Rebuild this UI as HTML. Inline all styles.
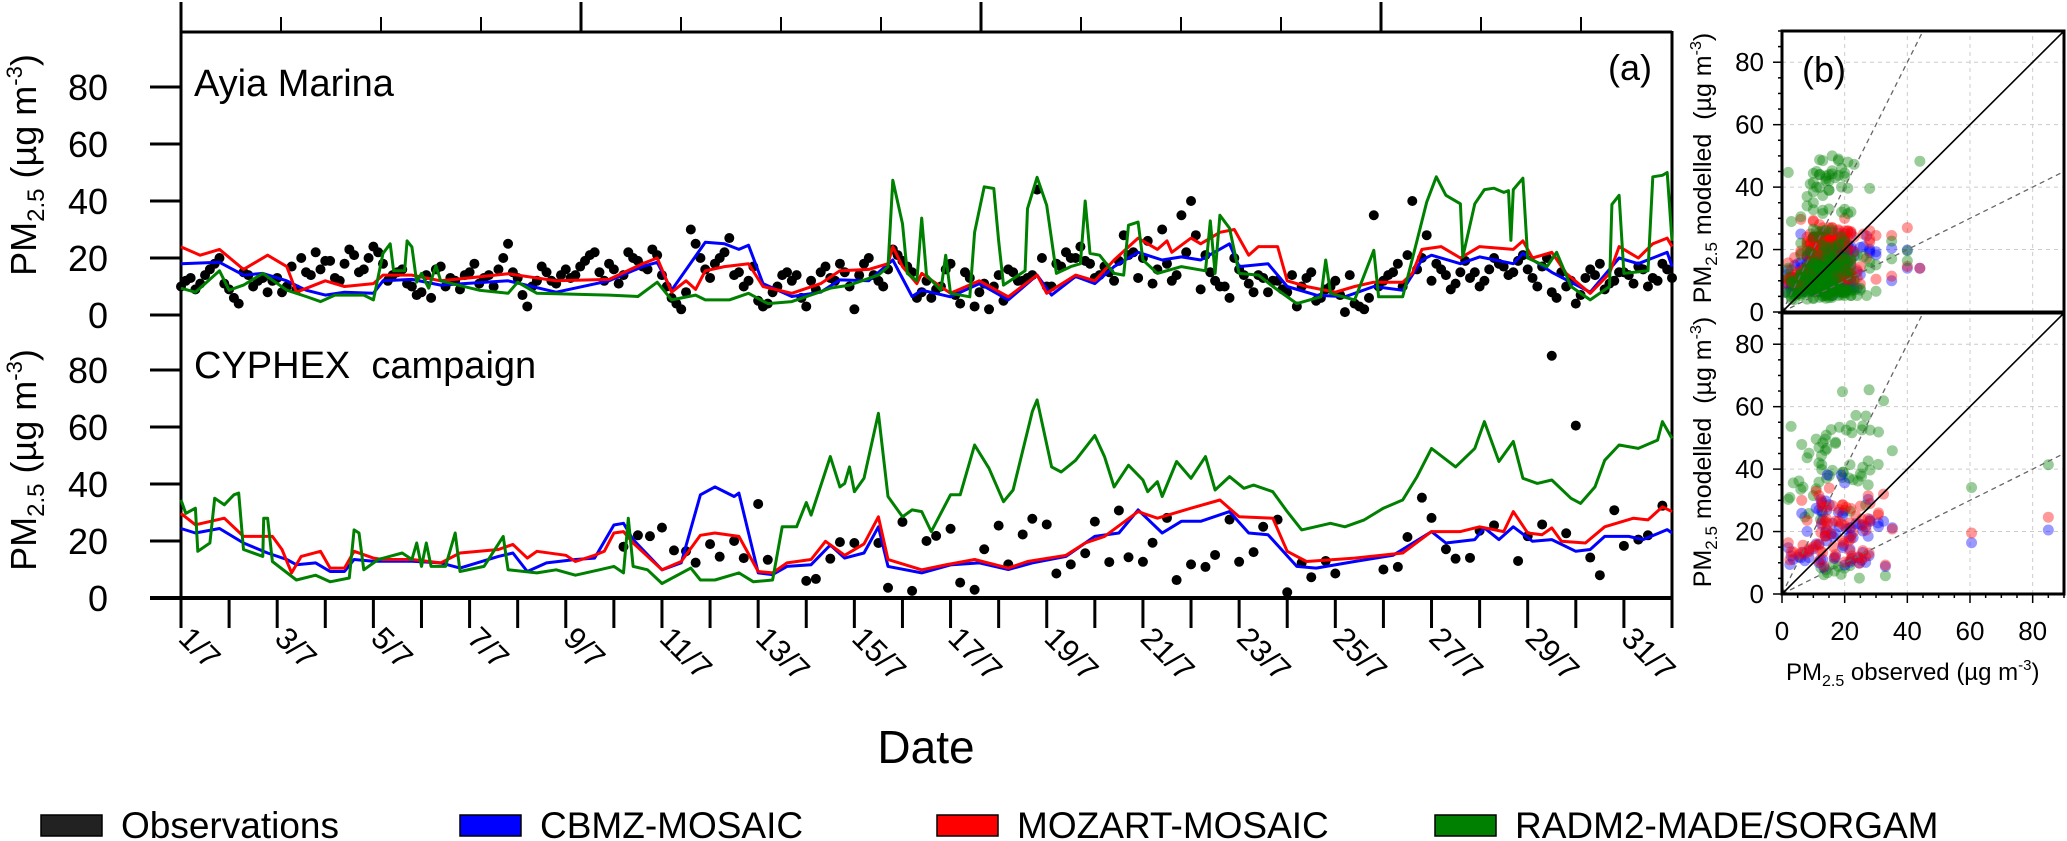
<!DOCTYPE html>
<html><head><meta charset="utf-8">
<style>
html,body{margin:0;padding:0;background:#fff;}
svg{display:block;font-family:"Liberation Sans",Arial,sans-serif;}
</style></head>
<body>
<svg id="chart" width="2067" height="841" viewBox="0 0 2067 841" xmlns="http://www.w3.org/2000/svg">
  <g id="gA"></g>
  <g id="gB"></g>
  <g id="gText">
    <text x="194" y="96" font-size="38">Ayia Marina</text>
    <text x="194" y="378" font-size="38" xml:space="preserve">CYPHEX  campaign</text>
    <text x="1608" y="80" font-size="36">(a)</text>
    <text x="1802" y="82" font-size="36">(b)</text>
    <text transform="translate(36,165) rotate(-90)" text-anchor="middle" font-size="36">PM<tspan font-size="24" dy="8">2.5</tspan><tspan dy="-8"> (µg m</tspan><tspan font-size="22" dy="-14">-3</tspan><tspan dy="14">)</tspan></text>
    <text transform="translate(36,460) rotate(-90)" text-anchor="middle" font-size="36">PM<tspan font-size="24" dy="8">2.5</tspan><tspan dy="-8"> (µg m</tspan><tspan font-size="22" dy="-14">-3</tspan><tspan dy="14">)</tspan></text>
    <text transform="translate(1711,168) rotate(-90)" text-anchor="middle" font-size="25">PM<tspan font-size="17" dy="6">2.5</tspan><tspan dy="-6" xml:space="preserve"> modelled  (µg m</tspan><tspan font-size="16" dy="-10">-3</tspan><tspan dy="10">)</tspan></text>
    <text transform="translate(1711,452) rotate(-90)" text-anchor="middle" font-size="25">PM<tspan font-size="17" dy="6">2.5</tspan><tspan dy="-6" xml:space="preserve"> modelled  (µg m</tspan><tspan font-size="16" dy="-10">-3</tspan><tspan dy="10">)</tspan></text>
    <text x="1786" y="680" font-size="24">PM<tspan font-size="16" dy="6">2.5</tspan><tspan dy="-6"> observed (µg m</tspan><tspan font-size="15" dy="-10">-3</tspan><tspan dy="10">)</tspan></text>
    <text x="926" y="763" font-size="46" text-anchor="middle">Date</text>
  </g>
  <g id="gLegend"></g>
</svg>
<script>
// ---------- Ayia Marina (upper) ----------
const amObsV1 = [10,13,11,16,20,9,4,14,12,8,13,10,9,15,22,19,13,18,21,16,24,18,14,16,10,8,6,17,13,9,15,11,14,16,25,13,3,12,15,11,16,14,19,22,12,16,14,20,17,23,14,6,2,30,20,13,20,27,15,12,5,4,10,15,14,3,9,17,12,15,2,18,14,10,23,19,15,8,
6,10,18,4,13,8,2,14,16,12,13,44,10,18,22,20,19,13,17,12,28,22,20,11,30,12,35,40,9,15,10,6,16,11,14,8,12,8,3,13,5,9,12,1,4,2,35,12,15,10,40,20,12,16,9,15,13,10,16,18,14,19,16,10,20,6,10,4,13,14,9,12,15,11,16,13,18,13];
const amObsV2 = [12,9,14,18,11,6,15,10,13,12,8,17,20,14,16,19,12,23,15,20,
22,12,15,11,7,14,16,10,12,14,18,13,10,20,15,7,10,17,12,14,
13,17,21,15,18,11,22,19,16,21,10,4,8,25,16,18,22,14,10,17,
3,8,14,12,6,12,15,13,18,10,14,20,12,16,21,17,6,12,9,16,
7,15,3,11,10,5,15,12,14,20,10,17,20,24,18,14,15,19,21,13,
26,16,18,14,22,28,21,12,10,20,14,8,13,12,9,14,10,15,6,10,
7,14,3,6,10,14,18,21,16,28,18,14,11,19,15,12,20,17,15,21,
13,17,8,15,12,7,16,18,11,15,14,17,10,12,16];
const amObsT1 = amObsV1.map((v,i)=>i<78 ? i*0.2 : 15.6+(i-78)*0.2);
const amObsT2 = amObsV2.map((v,i)=>0.1+i*0.2);
const amObsT = amObsT1.concat(amObsT2);
const amObsV = amObsV1.concat(amObsV2);
const amRedT = [0,0.4,0.8,1.3,1.8,2.2,2.4,3,3.4,4,4.2,4.8,5.4,6,6.8,7.8,8.9,9.6,9.9,10.2,10.5,10.7,10.9,11.3,11.8,12.1,12.7,13.3,13.7,14.3,14.7,14.8,15,15.3,15.4,16,16.6,17.2,17.8,18,18.6,19,19.4,19.9,20.3,20.5,20.6,21,21.2,21.6,21.9,22.2,22.4,22.8,23,23.4,24,24.4,24.8,25.4,25.6,25.8,26.2,26.6,27,27.7,27.9,28.1,28.5,28.8,29.3,29.7,29.9,30.3,30.6,30.9,31];
const amRedV = [23.9,21,23,16,21,17,8,12,10,11,14,14,12,13,14.5,12,12.5,18,20,8,12,9,15.5,17,18,10,7.6,11,15.5,16,18,24,17,11,14.6,7.6,12,6.4,14,7.6,14,12,19.3,27,23,26,22,27,25,29,30,21,24,24,12,10,8,10,11.5,11.5,14.6,23,24,20,24,23,26,20,22,14.6,7.6,14.6,24,20,25,27,24];
const amBlueT = [0,0.8,1.3,1.7,2.2,2.6,3,3.4,4,4.2,4.8,5.4,6.8,7.8,8.9,9.6,9.9,10.2,10.9,11.3,11.6,11.8,12.1,12.7,13.3,13.7,14.3,14.8,15.2,15.4,16,16.6,17.2,17.8,18.1,18.6,19,19.4,19.9,20.4,20.8,21.2,21.8,22,22.6,23,23.6,24.2,24.8,25.4,25.8,26,26.6,27,27.7,27.9,28.5,29.3,29.9,30.3,30.9,31];
const amBlueV = [18,18.5,14,14.6,12,8.7,7,8,7.6,12,12.5,10.5,12,8,12,17,18.5,8.7,25.5,25,23,24.5,11,6.5,8,12.3,12,19.3,6.5,8.7,6.4,11,5.3,14,7,13.5,11,17,22,19.3,20.4,19.3,25,17,18,10,7,6.4,10,8.7,19.3,21,18,20.4,18,21.6,15,8,20,18,22,17];
const amGreenT = [0,0.3,0.8,1,1.3,1.7,2.2,2.6,2.9,3.2,3.8,4,4.2,4.35,4.42,4.65,4.7,4.8,4.9,5,5.15,5.3,5.4,6.2,6.8,7,7.4,8.9,9.5,9.9,10.2,10.7,10.9,11.4,11.8,12.2,12.7,13.2,13.5,13.9,14.5,14.7,14.8,15,15.1,15.3,15.4,15.5,15.8,15.9,16,16.4,16.5,16.7,16.9,17,17.1,17.55,17.6,17.8,18,18.2,18.5,18.7,18.8,18.9,19.1,19.4,19.6,19.7,19.9,20,20.3,20.8,21.3,21.4,21.5,21.6,21.8,22,22.4,22.7,23.2,23.7,23.8,23.9,24.4,24.8,24.9,25.4,25.7,25.9,26.1,26.3,26.6,26.65,26.9,27.1,27.3,27.5,27.6,27.65,27.7,27.9,28,28.4,28.6,28.9,29.3,29.7,29.75,29.9,30,30.5,30.6,30.8,30.9,31];
const amGreenV = [9.4,8,15.5,8.7,10.5,14.6,8.7,6.5,4.7,7,7,5.3,21.6,25,15.5,15.5,26,23.9,11.5,14.6,9.4,17.3,12,8.7,7.6,11.5,7.6,7,6.5,11.5,5.3,7,5.3,5.3,7.6,4,4.7,7.6,9.4,10.5,14,16.9,47.3,32,14.6,12,34,14,8.7,21,7.6,6.4,29,45,44.4,26.2,10.5,15.5,37.3,48.3,38.5,14.6,17,18,40,21.6,21,14.6,14,31.5,32.6,19.3,14.6,17,15.5,33,14.6,35,30.5,14.6,14,10,4,6.4,19.3,7.6,5.3,22.7,6.4,6.4,26.2,39.6,48.5,42,39,20.4,39,44,44.5,43,43.6,26.2,44,48,20,16.9,22,10,5.3,10,38.8,42,14.6,15.5,48.5,49,50,26];
// ---------- CYPHEX (lower) ----------
const cyObsT = [9.2,9.5,9.75,10,10.25,10.5,10.7,11,11.2,11.5,11.7,12,12.2,13,13.2,13.5,13.7,14,14.5,14.7,15,15.2,15.5,15.7,16,16.2,16.5,16.7,17,17.2,17.5,17.7,18,18.2,18.5,18.8,19,19.3,19.5,19.7,20,20.2,20.5,20.7,21,21.3,21.5,21.8,22,22.3,22.5,22.8,23,23.3,23.5,23.8,24,25,25.3,25.5,25.8,26,26.3,26.5,26.8,27,27.3,27.8,28,28.3,28.5,28.8,29,29.3,29.5,29.8,30,30.3,30.5,30.8];
const cyObsV = [18,22,21.7,24.7,16.7,16.4,12.4,18.9,14.5,20,14,33,13.4,6,6.7,13.8,19.6,19.3,19.3,3.6,26.7,2.5,20,21.8,24.3,5.4,2.9,17.1,25.4,11.8,22.3,27.8,25.8,8.6,11.8,15.7,26.8,12.6,30.7,14.3,12.7,19.4,28.1,6.3,11.8,10.9,15.1,27.5,12.7,16.1,25,27.5,2,12.3,7.3,13,8.6,10,10.9,21.4,35.2,28.1,17.1,13.8,14.1,23.6,25.5,13,21.7,25.8,85,22.7,60.5,14.2,8,30.8,18.3,20.5,22,32.4];
const cyRedT = [0,0.3,0.9,1.3,1.9,2.1,2.3,2.5,2.9,3.1,3.4,3.6,4,4.2,4.8,5.4,5.8,6.6,6.9,7.2,7.4,8,8.2,8.6,8.8,9,9.2,9.4,10,10.4,10.8,11.1,11.6,12,12.3,12.6,13.1,13.4,13.8,14.2,14.5,14.7,15.4,15.9,16.5,17.2,17.6,18.4,18.8,19.2,19.9,20.3,21,21.6,22,22.7,23,23.4,24.4,25.4,26,26.6,27,27.5,27.7,28,28.3,28.5,28.7,29.2,29.6,30.2,30.5,30.8,31];
const cyRedV = [29.7,25.7,28,21.6,21.6,17,8.8,14.6,16.4,10.5,10.5,16.4,14,13.5,13.5,12.3,15.8,17,18.8,14,16.4,15,12.8,15,16.4,22.8,23.3,19.3,9.9,12.8,22,22.8,21.6,9.3,8.8,12.3,13.5,19.9,15,19,28.5,13.5,9.9,11.6,13.5,10.5,12.8,15,19.3,21.6,30.3,28,31.5,34.4,28.5,28,16.4,12.8,14,15.8,23.3,23.3,25,23.3,30.3,22.8,22.2,24.6,19.9,19.3,25,28,27.4,32,30.3];
const cyBlueT = [0,0.3,0.8,1.3,1.8,2.2,2.4,2.8,3.1,3.4,3.6,4,4.8,5.4,5.8,6.6,6.9,7.2,7.6,8.2,8.6,9,9.2,9.4,10,10.4,10.8,11.1,11.5,11.6,12,12.3,12.6,13.1,13.5,13.8,14.2,14.5,14.7,15.4,16,16.6,17.2,17.7,18.4,19,19.5,19.9,20.4,20.8,21.2,21.8,22.2,22.6,23.2,23.6,24.4,25.2,26,26.3,26.9,27.1,27.4,27.7,28.1,28.5,29,29.3,29.6,30.1,30.4,30.9,31];
const cyBlueV = [24.4,22.8,24.4,19.3,15.8,13.5,11.7,12.3,9.3,9.3,13.5,12.9,12.9,12.3,10.5,14.6,15.8,9.3,12.3,13.5,14,25.6,26.2,20.5,9.9,12.3,36.2,39,35.6,36.8,8.8,8.2,11.1,11.7,18.6,14,15.8,25,11.1,8.8,11.6,12.3,10,12.3,14.6,21.6,22.8,30.9,22.8,26.9,26.9,30.3,22.8,22.2,11.1,10.5,12.8,15,23.3,19.3,20.5,24.6,20.5,25,19.9,20.5,16.4,17,21.6,21.6,20.5,24,22.8];
const cyGreenT = [0,0.1,0.3,0.35,0.6,0.7,0.9,1.1,1.2,1.3,1.7,1.72,1.8,1.9,2.4,2.8,3.1,3.5,3.6,3.7,3.8,4.1,4.6,4.8,4.9,5,5.1,5.2,5.5,5.7,5.8,6.3,6.7,6.8,7.4,7.8,8.2,8.7,9,9.2,9.3,9.4,9.7,10,10.6,10.8,11.1,11.6,11.9,12.3,12.5,12.8,13,13.1,13.5,13.7,13.8,13.9,14,14.2,14.5,14.7,15,15.2,15.4,15.6,16,16.2,16.5,16.8,17.1,17.3,17.7,17.8,18.1,18.3,18.6,19,19.2,19.4,19.7,20,20.1,20.3,20.4,20.7,21,21.3,21.5,21.8,22.1,22.3,22.7,23,23.3,23.9,24.2,24.6,25,25.4,25.7,26,26.5,26.9,27.1,27.4,27.7,27.9,28.2,28.5,28.9,29.1,29.4,29.6,29.9,30.3,30.7,30.8,31];
const cyGreenV = [34.4,29.7,31.5,16.4,19.3,35,32.7,36.2,36.8,17,14.6,28,28,12.8,6.3,8,5.7,7,23.9,22.8,9.9,13.5,15.8,13.5,19.3,11.1,19.3,11.1,11.1,22.8,9.3,11.1,21.6,9.9,8.8,9.9,8,9.9,11.1,8.8,28,11.1,9.9,5.1,10.5,6.3,6.3,8.8,5.7,6.3,25,25,33.5,29.1,49.6,39,40.2,46,37.3,42,64.8,35.6,28.5,30.9,30.3,23.3,36.2,36.2,53.7,45.5,33.8,37.9,65.4,69.5,46,44.2,48.3,57,49.6,39,46.6,41.4,37.3,40.8,35.6,47.9,42,49.6,37.9,42.6,38.5,39.6,37.3,30.3,23.9,26.2,25,27.4,31.5,34.4,42.6,52.5,46,52.5,61.9,47.9,54.9,42,40.2,41.4,35,33.2,39,48.3,53.7,52.5,55.4,61.9,56];
// ---------- axis tick labels ----------
const yTickVals = [0,20,40,60,80];
const dateLabels = ["1/7","3/7","5/7","7/7","9/7","11/7","13/7","15/7","17/7","19/7","21/7","23/7","25/7","27/7","29/7","31/7"];
const scatterTicks = [0,20,40,60,80];
const legendNames = ["Observations","CBMZ-MOSAIC","MOZART-MOSAIC","RADM2-MADE/SORGAM"];

const NS="http://www.w3.org/2000/svg";
function mk(tag, attrs, parent){const e=document.createElementNS(NS,tag);for(const k in attrs)e.setAttribute(k,attrs[k]);parent.appendChild(e);return e;}
const gA=document.getElementById('gA'), gB=document.getElementById('gB'), gL=document.getElementById('gLegend');

const X0=181, X1=1672, DAYS=31;
const xDay = d => X0 + d*(X1-X0)/DAYS;
const yUp = v => 315 - 2.85*v;
const yLo = v => 598 - 2.85*v;

let e;
e=mk('line',{x1:X0,y1:32,x2:X1,y2:32,stroke:'#000','stroke-width':3},gA);


e=mk('line',{x1:X0,y1:31,x2:X0,y2:599,stroke:'#000','stroke-width':3},gA);


e=mk('line',{x1:X1,y1:31,x2:X1,y2:599,stroke:'#000','stroke-width':3},gA);


e=mk('line',{x1:150,y1:598,x2:X1,y2:598,stroke:'#000','stroke-width':4},gA);


for(let i=0;i<=14;i++){const x=X0+i*100; if(x>X1)break;
  e=mk('line',{x1:x,y1:(i%4===0)?2:17,x2:x,y2:32,stroke:'#000','stroke-width':(i%4===0)?3:2},gA);
  
  
}
[[yUp,'upper'],[yLo,'lower']].forEach(([fy,nm])=>{
  yTickVals.forEach(v=>{
    e=mk('line',{x1:150,y1:fy(v),x2:X0,y2:fy(v),stroke:'#000','stroke-width':3},gA);
    
    
    e=mk('text',{x:108,y:fy(v)+13,'font-size':36,'text-anchor':'end'},gA);
    e.textContent=v;
    
    
  });
});
for(let d=0; d<=DAYS; d++){
  e=mk('line',{x1:xDay(d),y1:598,x2:xDay(d),y2:628,stroke:'#000','stroke-width':3},gA);
  
  
}
dateLabels.forEach((lab,i)=>{
  const x=xDay(i*2);
  e=mk('text',{x:0,y:0,'font-size':31,transform:`translate(${x-4},${640}) rotate(45)`},gA);
  e.textContent=lab;
  
  
});
function line(T,V,fy,color,name){
  const n=Math.min(T.length,V.length);
  const pts=[];for(let i=0;i<n;i++)pts.push(xDay(T[i]).toFixed(1)+','+fy(V[i]).toFixed(1));
  const p=mk('polyline',{points:pts.join(' '),fill:'none',stroke:color,'stroke-width':3,'stroke-linejoin':'round'},gA);
  
  
}
function dots(T,V,fy,name){
  const n=Math.min(T.length,V.length);
  for(let i=0;i<n;i++){
    const c=mk('circle',{cx:xDay(T[i]),cy:fy(V[i]),r:5,fill:'#000'},gA);
    
    
  }
}
dots(amObsT,amObsV,yUp,'obs-point-ayia-marina');
line(amBlueT,amBlueV,yUp,'#0000ff','cbmz-line-ayia-marina');
line(amRedT,amRedV,yUp,'#ff0000','mozart-line-ayia-marina');
line(amGreenT,amGreenV,yUp,'#008000','radm2-line-ayia-marina');
dots(cyObsT,cyObsV,yLo,'obs-point-cyphex');
line(cyBlueT,cyBlueV,yLo,'#0000ff','cbmz-line-cyphex');
line(cyRedT,cyRedV,yLo,'#ff0000','mozart-line-cyphex');
line(cyGreenT,cyGreenV,yLo,'#008000','radm2-line-cyphex');

// ---------- scatter (b) ----------
const SX0=1782, SX1=2064;
const sx = v => SX0 + v*(SX1-SX0)/90;
const syU = v => 312 - v*281/90;
const syL = v => 594 - v*281/90;
function interp(T,V,t){const n=Math.min(T.length,V.length);
  if(t<=T[0])return V[0]; for(let i=1;i<n;i++){if(T[i]>=t){const f=(t-T[i-1])/((T[i]-T[i-1])||1);return V[i-1]+f*(V[i]-V[i-1]);}} return V[n-1];}
const clipU=mk('clipPath',{id:'clipU'},gB); mk('rect',{x:SX0,y:31,width:SX1-SX0,height:281},clipU);
const clipL=mk('clipPath',{id:'clipL'},gB); mk('rect',{x:SX0,y:313,width:SX1-SX0,height:281},clipL);
[[syU,'clipU','upper',amObsT,amObsV,[[amBlueT,amBlueV,'rgba(0,0,255,0.4)','cbmz'],[amRedT,amRedV,'rgba(255,0,0,0.4)','mozart'],[amGreenT,amGreenV,'rgba(0,128,0,0.4)','radm2']]],
 [syL,'clipL','lower',cyObsT,cyObsV,[[cyGreenT,cyGreenV,'rgba(0,128,0,0.4)','radm2'],[cyBlueT,cyBlueV,'rgba(0,0,255,0.4)','cbmz'],[cyRedT,cyRedV,'rgba(255,0,0,0.4)','mozart']]]
].forEach(([fy,clip,nm,OT,OV,models])=>{
  const g=mk('g',{'clip-path':`url(#${clip})`},gB);
  
  
  scatterTicks.slice(1).forEach(v=>{
    e=mk('line',{x1:sx(v),y1:fy(0),x2:sx(v),y2:fy(90),stroke:'#ccc','stroke-width':1,'stroke-dasharray':'4 4'},g);
    
    
    e=mk('line',{x1:SX0,y1:fy(v),x2:SX1,y2:fy(v),stroke:'#ccc','stroke-width':1,'stroke-dasharray':'4 4'},g);
    
    
  });
  const n=Math.min(OT.length,OV.length);
  models.forEach(([T,V,col,mn])=>{
    for(let i=0;i<n;i++){
      const c=mk('circle',{cx:sx(OV[i]),cy:fy(interp(T,V,OT[i])),r:5.5,fill:col},g);
      
      
    }
  });
  e=mk('line',{x1:sx(0),y1:fy(0),x2:sx(45),y2:fy(90),stroke:'#666','stroke-width':1.3,'stroke-dasharray':'5 4'},g);
  
  
  e=mk('line',{x1:sx(0),y1:fy(0),x2:sx(90),y2:fy(45),stroke:'#666','stroke-width':1.3,'stroke-dasharray':'5 4'},g);
  
  
  e=mk('line',{x1:sx(0),y1:fy(0),x2:sx(90),y2:fy(90),stroke:'#000','stroke-width':1.6},g);
  
  
  e=mk('rect',{x:SX0,y:fy(90),width:SX1-SX0,height:fy(0)-fy(90),fill:'none',stroke:'#000','stroke-width':3},gB);
  
  
  for(let v=0;v<=90;v+=5){
    e=mk('line',{x1:SX0-(v%20===0?9:4),y1:fy(v),x2:SX0,y2:fy(v),stroke:'#000','stroke-width':1.5},gB);
    
    
  }
  scatterTicks.forEach(v=>{
    e=mk('text',{x:1764,y:fy(v)+9,'font-size':26,'text-anchor':'end'},gB);
    e.textContent=v;
    
    
  });
});
for(let v=0;v<=90;v+=5){
  e=mk('line',{x1:sx(v),y1:594,x2:sx(v),y2:594+(v%20===0?9:4),stroke:'#000','stroke-width':1.5},gB);
  
  
}
scatterTicks.forEach(v=>{
  e=mk('text',{x:sx(v),y:640,'font-size':26,'text-anchor':'middle'},gB);
  e.textContent=v;
  
  
});

// ---------- legend ----------
const legColors=['#222','#0000ff','#ff0000','#008000'];
const legX=[41,460,937,1435];
legendNames.forEach((nm,i)=>{
  const g=mk('g',{},gL);
  
  
  e=mk('rect',{x:legX[i],y:815,width:61,height:21,fill:legColors[i],stroke:'#000','stroke-width':1.5},g);
  
  
  e=mk('text',{x:legX[i]+80,y:838,'font-size':37},g);
  e.textContent=nm;
  
  
});
</script>
</body></html>
